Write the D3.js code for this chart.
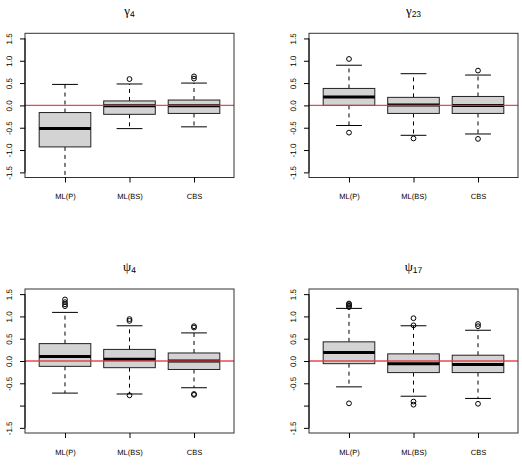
<!DOCTYPE html>
<html><head><meta charset="utf-8">
<script src="https://cdn.jsdelivr.net/npm/d3@7"></script>
<style>body{margin:0;background:#fff}svg{display:block}text{text-rendering:geometricPrecision}</style>
</head><body>
<script>
// ---- data ----
const categories = ["ML(P)", "ML(BS)", "CBS"];
const yTicks = [-1.5, -1.0, -0.5, 0.0, 0.5, 1.0, 1.5];
const yTickLabelsTop = ["-1.5", "-1.0", "-0.5", "0.0", "0.5", "1.0", "1.5"];
const yTickLabelsBottom = ["-1.5", "", "-0.5", "0.0", "0.5", "1.0", "1.5"];
const titleSymbols = ["γ", "γ", "ψ", "ψ"];
const titleSubscripts = ["4", "23", "4", "17"];

// [lower whisker, Q1, median, Q3, upper whisker] per category
const gamma4Stats = [[-2.0, -0.93, -0.52, -0.16, 0.47], [-0.52, -0.20, -0.01, 0.10, 0.48], [-0.48, -0.18, -0.01, 0.12, 0.50]];
const gamma4Outliers = [[], [0.59], [0.60, 0.65]];
const gamma23Stats = [[-0.45, 0.0, 0.19, 0.38, 0.90], [-0.67, -0.18, 0.01, 0.18, 0.71], [-0.64, -0.18, 0.0, 0.20, 0.68]];
const gamma23Outliers = [[1.04, -0.61], [-0.74], [0.78, -0.75]];
const psi4Stats = [[-0.72, -0.12, 0.10, 0.39, 1.09], [-0.74, -0.15, 0.04, 0.26, 0.79], [-0.60, -0.19, 0.0, 0.18, 0.63]];
const psi4Outliers = [[1.38, 1.32, 1.27, 1.23], [0.94, 0.90, -0.77], [0.78, 0.75, -0.74, -0.76]];
const psi17Stats = [[-0.58, -0.06, 0.19, 0.43, 1.18], [-0.79, -0.26, -0.06, 0.16, 0.79], [-0.84, -0.26, -0.08, 0.13, 0.69]];
const psi17Outliers = [[1.29, 1.27, 1.24, 1.21, -0.95], [0.96, 0.80, -0.91, -0.98], [0.83, 0.78, -0.96]];
const referenceValue = 0;

const panelStats = [gamma4Stats, gamma23Stats, psi4Stats, psi17Stats];
const panelOutliers = [gamma4Outliers, gamma23Outliers, psi4Outliers, psi17Outliers];
const panelTickLabels = [yTickLabelsTop, yTickLabelsTop, yTickLabelsBottom, yTickLabelsBottom];

// ---- layout ----
const W = 522, H = 476;
const cols = [[25, 234], [309, 518]];
const rows = [[33.3, 177.5], [289, 433]];

const svg = d3.select("body").append("svg").attr("width", W).attr("height", H);
const defs = svg.append("defs");
const sans = "'Liberation Sans', Arial, Helvetica, sans-serif";

panelStats.forEach((stats, p) => {
  const [x0, x1] = cols[p % 2];
  const [y0, y1] = rows[Math.floor(p / 2)];
  const x = d3.scaleLinear().domain([0.38, 3.62]).range([x0, x1]);
  const y = d3.scaleLinear().domain([-1.615, 1.615]).range([y1, y0]);
  const g = svg.append("g");
  const clipId = "clip" + p;
  defs.append("clipPath").attr("id", clipId).append("rect")
    .attr("x", x0).attr("y", y0).attr("width", x1 - x0).attr("height", y1 - y0);
  const plot = g.append("g").attr("clip-path", `url(#${clipId})`);
  const halfBox = 0.4, halfCap = 0.2;

  stats.forEach((s, i) => {
    const c = i + 1;
    const [lw, q1, med, q3, uw] = s;
    plot.append("line").attr("x1", x(c)).attr("x2", x(c)).attr("y1", y(q3)).attr("y2", y(uw))
      .attr("stroke", "#000").attr("stroke-dasharray", "4,4").attr("stroke-width", 1);
    plot.append("line").attr("x1", x(c)).attr("x2", x(c)).attr("y1", y(q1)).attr("y2", y(lw))
      .attr("stroke", "#000").attr("stroke-dasharray", "4,4").attr("stroke-width", 1);
    [lw, uw].forEach(v => {
      plot.append("line").attr("x1", x(c - halfCap)).attr("x2", x(c + halfCap)).attr("y1", y(v)).attr("y2", y(v))
        .attr("stroke", "#000").attr("stroke-width", 1);
    });
    plot.append("rect").attr("x", x(c - halfBox)).attr("width", x(c + halfBox) - x(c - halfBox))
      .attr("y", y(q3)).attr("height", y(q1) - y(q3))
      .attr("fill", "#d3d3d3").attr("stroke", "#222").attr("stroke-width", 1);
    plot.append("line").attr("x1", x(c - halfBox)).attr("x2", x(c + halfBox)).attr("y1", y(med)).attr("y2", y(med))
      .attr("stroke", "#000").attr("stroke-width", 3);
    panelOutliers[p][i].forEach(v => {
      plot.append("circle").attr("cx", x(c)).attr("cy", y(v)).attr("r", 2.4)
        .attr("fill", "none").attr("stroke", "#000").attr("stroke-width", 1);
    });
  });

  g.append("line").attr("x1", x0).attr("x2", x1).attr("y1", y(referenceValue)).attr("y2", y(referenceValue))
    .attr("stroke", "#e2383e").attr("stroke-width", 1.3).attr("opacity", 0.9);

  g.append("rect").attr("x", x0).attr("y", y0).attr("width", x1 - x0).attr("height", y1 - y0)
    .attr("fill", "none").attr("stroke", "#333").attr("stroke-width", 1);

  // y axis
  const yAxis = d3.axisLeft(y).tickValues(yTicks).tickSize(5)
    .tickFormat((d, i) => panelTickLabels[p][i]);
  const ya = g.append("g").attr("transform", `translate(${x0},0)`).call(yAxis);
  ya.attr("font-family", null).attr("font-size", null);
  ya.select(".domain").attr("d", `M0,${y(1.5)}V${y(-1.5)}`).attr("stroke", "#000");
  ya.selectAll(".tick line").attr("stroke", "#000");
  ya.selectAll(".tick text")
    .attr("font-family", sans).attr("font-size", 8).attr("fill", "#000")
    .attr("transform", "translate(-16,0) rotate(-90)").attr("x", 0).attr("y", 0)
    .attr("dy", "0.35em").attr("text-anchor", "middle");

  // x axis
  const xAxis = d3.axisBottom(x).tickValues([1, 2, 3]).tickSize(5)
    .tickFormat((d, i) => categories[i]);
  const xa = g.append("g").attr("transform", `translate(0,${y1})`).call(xAxis);
  xa.attr("font-family", null).attr("font-size", null);
  xa.select(".domain").remove();
  xa.selectAll(".tick line").attr("stroke", "#000");
  xa.selectAll(".tick text").attr("font-family", sans).attr("font-size", 7.5).attr("fill", "#000")
    .attr("y", 19).attr("dy", "0.35em");

  // title
  const t = svg.append("text").attr("x", (x0 + x1) / 2).attr("y", y0 - 18)
    .attr("text-anchor", "middle").attr("fill", "#000");
  t.append("tspan").attr("font-family", "'Liberation Serif', 'DejaVu Serif', serif").attr("font-size", 13).text(titleSymbols[p]);
  t.append("tspan").attr("font-family", sans).attr("font-size", 8.5).attr("dy", 2).text(titleSubscripts[p]);
});
</script>
</body></html>
